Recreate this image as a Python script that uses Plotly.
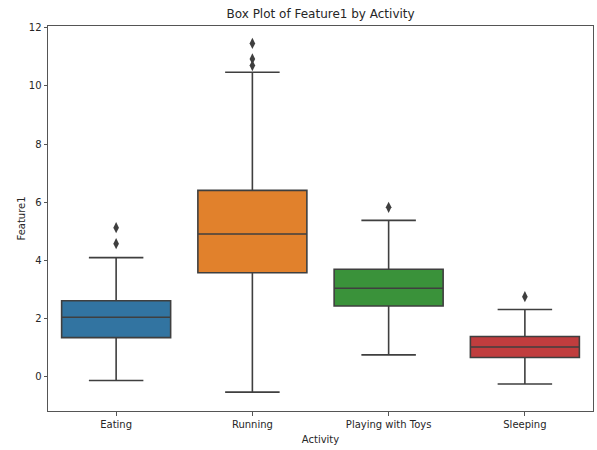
import plotly.graph_objects as go

activities = ["Eating", "Running", "Playing with Toys", "Sleeping"]
q1 = [1.35, 3.58, 2.44, 0.67]
median = [2.05, 4.91, 3.05, 1.03]
q3 = [2.62, 6.41, 3.70, 1.39]
lower_whisker = [-0.12, -0.52, 0.76, -0.24]
upper_whisker = [4.10, 10.47, 5.38, 2.32]
outlier_x = ["Eating", "Eating", "Running", "Running", "Running", "Playing with Toys", "Sleeping"]
outlier_y = [5.13, 4.58, 11.46, 10.93, 10.70, 5.83, 2.76]
colors = ["#3274a1", "#e1812c", "#3a923a", "#c03d3e"]

edge = "#3f3f3f"
font = "DejaVu Sans"

fig = go.Figure()
for i, a in enumerate(activities):
    fig.add_trace(go.Box(
        x=[a], q1=[q1[i]], median=[median[i]], q3=[q3[i]],
        lowerfence=[lower_whisker[i]], upperfence=[upper_whisker[i]],
        fillcolor=colors[i], line=dict(color=edge, width=1.6),
        width=0.8, whiskerwidth=0.5, boxpoints=False, showlegend=False,
        name=a, hoverinfo="y",
    ))

fig.add_trace(go.Scatter(
    x=outlier_x, y=outlier_y, mode="markers",
    marker=dict(symbol="diamond-tall", size=8, color=edge, line=dict(width=0)),
    showlegend=False, hoverinfo="y",
))

fig.update_layout(
    width=597, height=450,
    margin=dict(l=48, r=4, t=26, b=39),
    paper_bgcolor="white", plot_bgcolor="white",
    font=dict(family=font, size=10, color="#262626"),
    boxmode="overlay",
    title=dict(text="Box Plot of Feature1 by Activity", x=0.537, xanchor="center",
               y=1 - 14 / 450, yanchor="middle", yref="container",
               font=dict(size=12, color="#262626")),
)
fig.update_xaxes(
    categoryorder="array", categoryarray=activities,
    range=[-0.5, 3.5], showline=True, mirror=True, linecolor="#555", linewidth=1,
    ticks="outside", ticklen=3.5, tickcolor="#555", showgrid=False, zeroline=False,
    automargin=False,
    title=dict(text="Activity", standoff=7, font=dict(size=10)),
)
fig.update_yaxes(
    range=[-1.17, 12.06], tickvals=[0, 2, 4, 6, 8, 10, 12],
    showline=True, mirror=True, linecolor="#555", linewidth=1,
    ticks="outside", ticklen=3.5, tickcolor="#555", showgrid=False, zeroline=False,
    automargin=False,
    title=dict(text="Feature1", standoff=1, font=dict(size=10)),
)

fig.write_html(
    "out.html",
    config={"displayModeBar": False},
    post_script="document.body.style.margin='0';document.body.style.overflow='hidden';",
)
